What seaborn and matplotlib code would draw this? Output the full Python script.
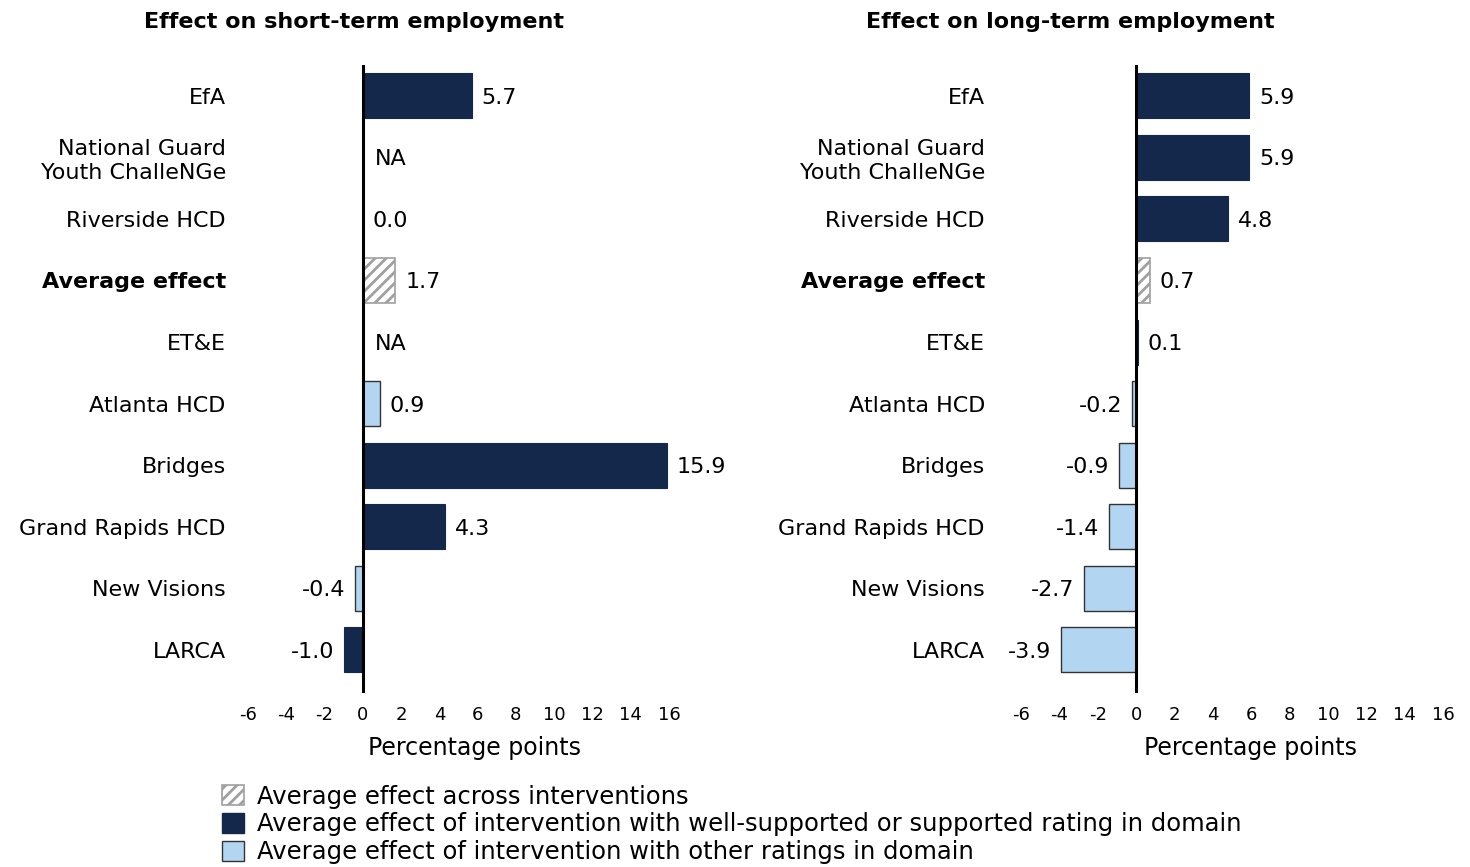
import numpy as np
import pandas as pd
import matplotlib
matplotlib.use("Agg")
import matplotlib.pyplot as plt
from matplotlib.patches import Patch
import seaborn as sns

sns.set_theme(style="white")
plt.rcParams['font.family'] = ['DejaVu Sans']
plt.rcParams['hatch.linewidth'] = 2.0
plt.rcParams['text.color'] = 'black'
plt.rcParams['axes.labelcolor'] = 'black'
plt.rcParams['xtick.color'] = 'black'
plt.rcParams['ytick.color'] = 'black'

programs = ["EfA", "National Guard\nYouth ChalleNGe", "Riverside HCD", "Average effect",
            "ET&E", "Atlanta HCD", "Bridges", "Grand Rapids HCD", "New Visions", "LARCA"]
short_vals = [5.7, np.nan, 0.0, 1.7, np.nan, 0.9, 15.9, 4.3, -0.4, -1.0]
short_type = ["sup", "sup", "sup", "avg", "sup", "oth", "sup", "sup", "oth", "sup"]
long_vals = [5.9, 5.9, 4.8, 0.7, 0.1, -0.2, -0.9, -1.4, -2.7, -3.9]
long_type = ["sup", "sup", "sup", "avg", "sup", "oth", "oth", "oth", "oth", "oth"]
titles = ["Effect on short-term employment", "Effect on long-term employment"]
xticks = list(range(-6, 17, 2))
legend_labels = ["Average effect across interventions",
                 "Average effect of intervention with well-supported or supported rating in domain",
                 "Average effect of intervention with other ratings in domain"]

DARK = "#13284b"
LIGHT = "#b2d5f2"
HATCH = "#a0a0a0"
palette = {"avg": "white", "sup": DARK, "oth": LIGHT}

fig = plt.figure(figsize=(14.7, 8.67), dpi=100)
W, H = 1470, 867
axes_px = [(248, 669), (1021, 1443)]
top_px, bot_px = 65, 693
pads = [16, 26]
title_x = [354, 1070]
xlabel_x = [0.539, 0.545]
FS = 16

for i, (vals, types) in enumerate([(short_vals, short_type), (long_vals, long_type)]):
    l, r = axes_px[i]
    ax = fig.add_axes([l / W, 1 - bot_px / H, (r - l) / W, (bot_px - top_px) / H])
    df = pd.DataFrame({"program": programs, "value": vals, "type": types})
    sns.barplot(data=df, x="value", y="program", hue="type", hue_order=["avg", "sup", "oth"],
                palette=palette, order=programs, dodge=False, width=0.73, ax=ax,
                legend=False, saturation=1, errorbar=None)
    for cont, t in zip(ax.containers, ["avg", "sup", "oth"]):
        for p in cont:
            if t == "avg":
                p.set_facecolor("white")
                p.set_edgecolor(HATCH)
                p.set_hatch("///")
                p.set_linewidth(1.2)
            elif t == "oth":
                p.set_edgecolor("#333333")
                p.set_linewidth(1.0)
            else:
                p.set_edgecolor(DARK)
                p.set_linewidth(0.8)
    ax.set_xlim(-6, 16)
    ax.set_ylim(9.7, -0.5)
    ax.axvline(0, color="black", lw=2.2, zorder=5)
    for s in ax.spines.values():
        s.set_visible(False)
    ax.set_xticks(xticks)
    ax.set_xticklabels([str(t) for t in xticks], fontsize=13)
    ax.tick_params(axis="x", length=0, pad=9, colors="black")
    ax.tick_params(axis="y", length=0, pad=pads[i])
    ax.set_yticks(range(len(programs)))
    ax.set_yticklabels(programs, fontsize=FS, color="black", linespacing=1.25)
    for lab in ax.get_yticklabels():
        if lab.get_text() == "Average effect":
            lab.set_fontweight("bold")
    ax.set_ylabel("")
    ax.set_xlabel("Percentage points", fontsize=17, color="black")
    ax.xaxis.set_label_coords(xlabel_x[i], -0.068)
    for j, v in enumerate(vals):
        if np.isnan(v):
            ax.annotate("NA", (0, j), xytext=(9, 0), textcoords="offset points",
                        va="center_baseline", ha="left", fontsize=FS)
        elif v >= 0:
            ax.annotate(f"{v:.1f}", (v, j), xytext=(7, 0), textcoords="offset points",
                        va="center_baseline", ha="left", fontsize=FS)
        else:
            ax.annotate(f"{v:.1f}", (v, j), xytext=(-7, 0), textcoords="offset points",
                        va="center_baseline", ha="right", fontsize=FS)
    fig.text(title_x[i] / W, 1 - 22 / H, titles[i], ha="center", va="center",
             fontsize=FS, fontweight="bold")

handles = [Patch(facecolor="white", edgecolor=HATCH, hatch="///", linewidth=1.2),
           Patch(facecolor=DARK, edgecolor=DARK),
           Patch(facecolor=LIGHT, edgecolor="#333333")]
fig.legend(handles, legend_labels, loc="upper left", bbox_to_anchor=(212 / W, 1 - 775 / H),
           frameon=False, fontsize=17.5, handlelength=0.9, handleheight=0.9,
           labelspacing=0.15, handletextpad=0.55, borderaxespad=0)

fig.savefig("out.png", dpi=100)
